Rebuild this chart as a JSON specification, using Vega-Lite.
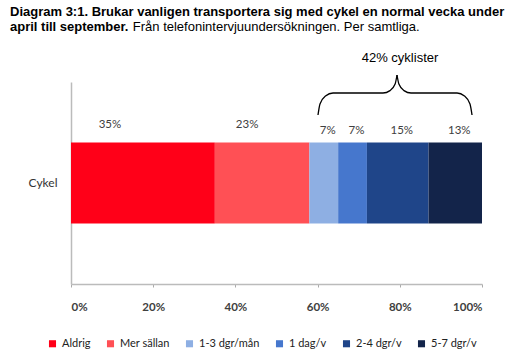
{
  "$schema": "https://vega.github.io/schema/vega-lite/v6.json",
  "autosize": {"type": "none"},
  "width": 411,
  "height": 202,
  "padding": {"left": 71, "top": 82, "right": 46, "bottom": 79},
  "background": "white",
  "title": {
    "text": ["Diagram 3:1. Brukar vanligen transportera sig med cykel en normal vecka under", "april till september."],
    "subtitle": "\u200b\u00a0\u00a0\u00a0\u00a0\u00a0\u00a0\u00a0\u00a0\u00a0\u00a0\u00a0\u00a0\u00a0\u00a0\u00a0\u00a0\u00a0\u00a0\u00a0\u00a0\u00a0\u00a0\u00a0\u00a0\u00a0\u00a0\u00a0\u00a0\u00a0\u00a0\u00a0\u00a0\u00a0\u00a0Från telefonintervjuundersökningen. Per samtliga.",
    "anchor": "start",
    "frame": "group",
    "dx": -61,
    "offset": 18,
    "font": "Liberation Sans",
    "fontSize": 13,
    "fontWeight": "bold",
    "color": "#000000",
    "lineHeight": 15,
    "subtitleFont": "Liberation Sans",
    "subtitleFontSize": 13,
    "subtitleFontWeight": "normal",
    "subtitleColor": "#000000",
    "subtitlePadding": -13
  },
  "config": {
    "view": {"stroke": null},
    "axis": {"grid": false}
  },
  "resolve": {"scale": {"y": "independent"}},
  "layer": [
    {
      "data": {
        "values": [
          {"rad": "Cykel", "kat": "Aldrig", "ordning": 1, "andel": 0.35},
          {"rad": "Cykel", "kat": "Mer sällan", "ordning": 2, "andel": 0.23},
          {"rad": "Cykel", "kat": "1-3 dgr/mån", "ordning": 3, "andel": 0.07},
          {"rad": "Cykel", "kat": "1 dag/v", "ordning": 4, "andel": 0.07},
          {"rad": "Cykel", "kat": "2-4 dgr/v", "ordning": 5, "andel": 0.15},
          {"rad": "Cykel", "kat": "5-7 dgr/v", "ordning": 6, "andel": 0.13}
        ]
      },
      "encoding": {
        "y": {
          "field": "rad",
          "type": "nominal",
          "scale": {"paddingInner": 0, "paddingOuter": 0.75},
          "axis": {
            "title": null,
            "ticks": false,
            "labelPadding": 14,
            "labelFont": "Lato",
            "labelFontSize": 12,
            "labelColor": "#333333",
            "domainColor": "#BBBBBB",
            "domainWidth": 1.5
          }
        },
        "x": {
          "field": "andel",
          "type": "quantitative",
          "stack": "zero",
          "scale": {"domain": [0, 1], "nice": false},
          "axis": {
            "title": null,
            "format": ".0%",
            "values": [0, 0.2, 0.4, 0.6, 0.8, 1],
            "tickSize": 3,
            "tickColor": "#AAAAAA",
            "domainColor": "#BBBBBB",
            "domainWidth": 1.5,
            "labelPadding": 14,
            "labelFont": "Lato",
            "labelFontSize": 11.5,
            "labelFontWeight": "bold",
            "labelColor": "#404040"
          }
        },
        "order": {"field": "ordning", "type": "quantitative"}
      },
      "layer": [
        {
          "mark": {"type": "bar"},
          "encoding": {
            "color": {
              "field": "kat",
              "type": "nominal",
              "scale": {
                "domain": ["Aldrig", "Mer sällan", "1-3 dgr/mån", "1 dag/v", "2-4 dgr/v", "5-7 dgr/v"],
                "range": ["#FF0018", "#FF5055", "#8EAFE3", "#4677CD", "#1F4589", "#13244A"]
              },
              "legend": {
                "orient": "none",
                "legendX": -24,
                "legendY": 256,
                "direction": "horizontal",
                "title": null,
                "symbolType": "square",
                "symbolSize": 50,
                "symbolStrokeWidth": 0,
                "labelFont": "Lato",
                "labelFontSize": 11,
                "labelColor": "#222222",
                "labelOffset": 4,
                "columnPadding": 14
              }
            }
          }
        },
        {
          "mark": {"type": "text", "dx": -33, "dy": -58, "baseline": "middle", "font": "Lato", "fontSize": 11.5, "color": "#404040"},
          "encoding": {
            "x": {"field": "andel", "type": "quantitative", "stack": "zero", "bandPosition": 0.5},
            "detail": {"field": "kat"},
            "text": {"condition": {"test": "datum.ordning != 1", "value": ""}, "field": "andel", "type": "quantitative", "format": ".0%"}
          }
        },
        {
          "mark": {"type": "text", "dx": -15, "dy": -58, "baseline": "middle", "font": "Lato", "fontSize": 11.5, "color": "#404040"},
          "encoding": {
            "x": {"field": "andel", "type": "quantitative", "stack": "zero", "bandPosition": 0.5},
            "detail": {"field": "kat"},
            "text": {"condition": {"test": "datum.ordning != 2", "value": ""}, "field": "andel", "type": "quantitative", "format": ".0%"}
          }
        },
        {
          "mark": {"type": "text", "dx": 4, "dy": -52, "baseline": "middle", "font": "Lato", "fontSize": 11.5, "color": "#404040"},
          "encoding": {
            "x": {"field": "andel", "type": "quantitative", "stack": "zero", "bandPosition": 0.5},
            "detail": {"field": "kat"},
            "text": {"condition": {"test": "datum.ordning <= 2", "value": ""}, "field": "andel", "type": "quantitative", "format": ".0%"}
          }
        }
      ]
    },
    {
      "data": {
        "values": [
          {"del": "vänster", "x": 0.6010, "h": 169},
          {"del": "vänster", "x": 0.6058, "h": 180},
          {"del": "vänster", "x": 0.6192, "h": 188},
          {"del": "vänster", "x": 0.6375, "h": 191},
          {"del": "vänster", "x": 0.7591, "h": 191},
          {"del": "vänster", "x": 0.7762, "h": 193.4},
          {"del": "vänster", "x": 0.7886, "h": 200},
          {"del": "vänster", "x": 0.7932, "h": 209},
          {"del": "höger", "x": 0.7932, "h": 209},
          {"del": "höger", "x": 0.7978, "h": 200},
          {"del": "höger", "x": 0.8102, "h": 193.4},
          {"del": "höger", "x": 0.8273, "h": 191},
          {"del": "höger", "x": 0.9392, "h": 191},
          {"del": "höger", "x": 0.9574, "h": 188},
          {"del": "höger", "x": 0.9708, "h": 180},
          {"del": "höger", "x": 0.9757, "h": 169}
        ]
      },
      "mark": {"type": "line", "interpolate": "monotone", "color": "#000000", "strokeWidth": 1.3},
      "encoding": {
        "x": {"field": "x", "type": "quantitative"},
        "y": {"field": "h", "type": "quantitative", "scale": {"domain": [0, 202], "nice": false}, "axis": null},
        "detail": {"field": "del"}
      }
    },
    {
      "data": {"values": [{"x": 0.8005, "h": 226, "t": "42% cyklister"}]},
      "mark": {"type": "text", "baseline": "middle", "align": "center", "font": "Liberation Sans", "fontSize": 13, "color": "#000000"},
      "encoding": {
        "x": {"field": "x", "type": "quantitative"},
        "y": {"field": "h", "type": "quantitative", "scale": {"domain": [0, 202], "nice": false}, "axis": null},
        "text": {"field": "t"}
      }
    }
  ]
}
